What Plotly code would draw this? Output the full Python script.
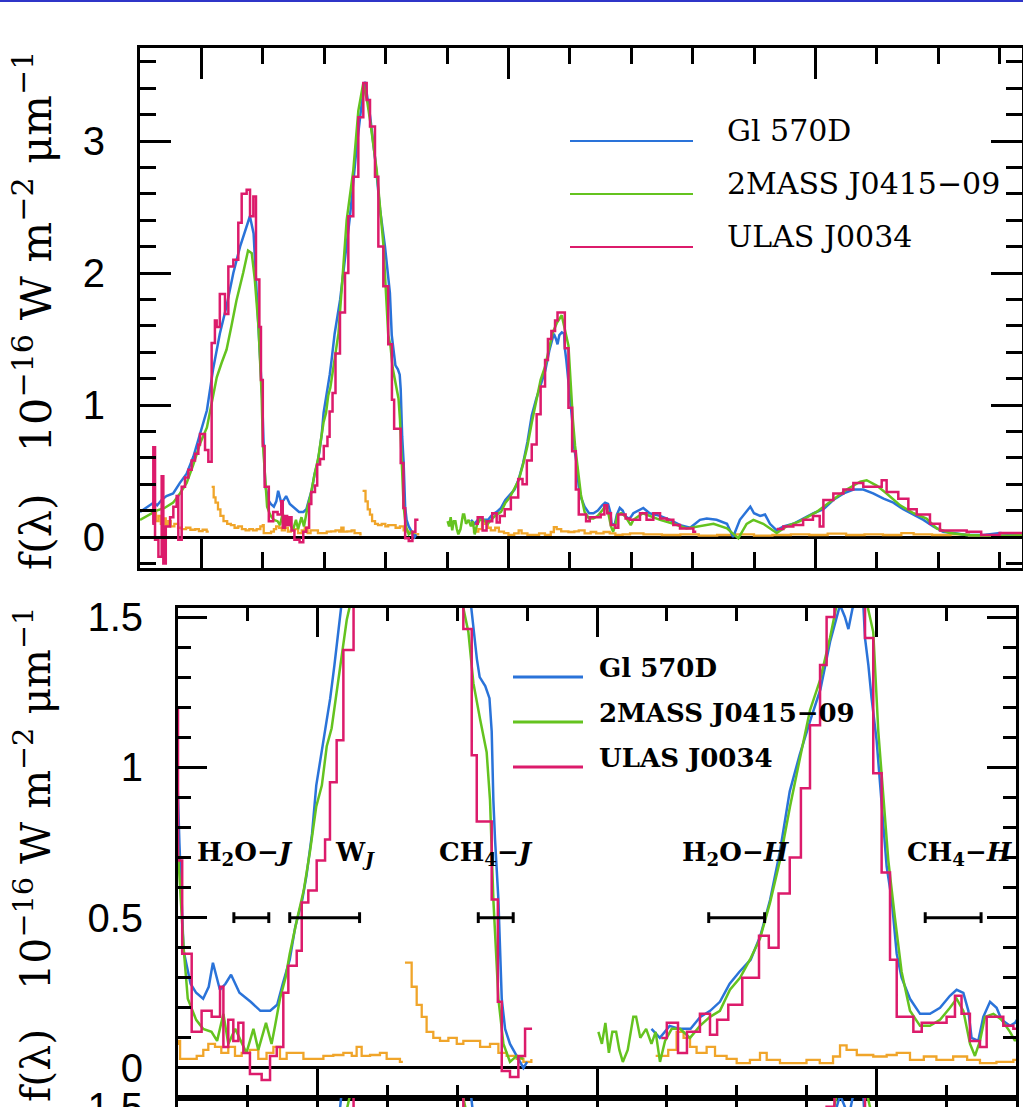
import plotly.graph_objects as go

W, H = 1023, 1107

# ---------------- data (wavelength in micron, flux in 1e-16 W m^-2 um^-1) ----------------
gl570d_wl = [0.900, 0.910, 0.922, 0.928, 0.935, 0.943, 0.954, 0.965, 0.976, 0.987, 0.998, 1.009, 1.019, 1.030,
             1.041, 1.052, 1.063, 1.074, 1.079, 1.085, 1.090, 1.095, 1.099, 1.101, 1.104, 1.109, 1.113, 1.118,
             1.122, 1.125, 1.130, 1.134, 1.138, 1.144, 1.152, 1.159, 1.166, 1.171, 1.175, 1.180, 1.184, 1.189,
             1.192, 1.196, 1.199, 1.204, 1.209, 1.212, 1.215, 1.217, 1.226, 1.234, 1.242, 1.253, 1.261, 1.2665,
             1.275, 1.283, 1.291, 1.299, 1.307, 1.310, 1.314, 1.316, 1.320, 1.323, 1.3246, 1.3258, 1.327, 1.3294,
             1.3318, 1.3342, 1.3377, 1.3425, 1.3473, 1.350, None,
             1.439, 1.445, 1.452, 1.459, 1.467, 1.474, 1.481, 1.488, 1.495, 1.502, 1.510, 1.517, 1.524, 1.531,
             1.538, 1.545, 1.553, 1.560, 1.567, 1.574, 1.5775, 1.580, 1.583, 1.587, 1.5907, 1.5919, 1.5943,
             1.5966, 1.6002, 1.6038, 1.6074, 1.611, 1.6146, 1.6181, 1.6241, 1.6313, 1.6384, 1.6456, 1.6527,
             1.6575, 1.6623, 1.6659, 1.6682, 1.673, 1.6766, 1.6814, 1.6861, 1.6897, 1.6957, 1.6993, 1.7035,
             1.7197, 1.730, 1.747, 1.763, 1.780, 1.796, 1.812, 1.823, 1.839, 1.856, 1.866, 1.877, 1.894, 1.900,
             1.910, 1.918, 1.926, 1.937, 1.948, 1.964, 1.980, 1.997, 2.013, 2.029, 2.046, 2.062, 2.078, 2.094,
             2.111, 2.127, 2.143, 2.160, 2.176, 2.192, 2.208, 2.225, 2.246, 2.274, 2.301, 2.337]
gl570d_f = [0.19, 0.22, 0.26, 0.24, 0.28, 0.31, 0.33, 0.41, 0.48, 0.61, 0.78, 0.96, 1.27, 1.54,
            1.75, 2.00, 2.20, 2.35, 2.43, 2.30, 1.84, 1.34, 1.05, 0.75, 0.39, 0.28, 0.25, 0.23,
            0.27, 0.35, 0.26, 0.28, 0.31, 0.25, 0.22, 0.19, 0.19, 0.21, 0.28, 0.36, 0.47, 0.56,
            0.64, 0.78, 0.94, 1.08, 1.23, 1.34, 1.45, 1.54, 1.80, 2.10, 2.43, 2.96, 3.28, 3.45,
            3.18, 2.86, 2.48, 2.20, 1.85, 1.53, 1.36, 1.30, 1.27, 1.23, 1.12, 0.89, 0.76, 0.56,
            0.23, 0.13, 0.08, 0.04, 0.00, 0.02, None,
            0.13, 0.10, 0.14, 0.13, 0.13, 0.17, 0.19, 0.22, 0.28, 0.32, 0.36, 0.44, 0.56, 0.72,
            0.92, 1.04, 1.16, 1.26, 1.42, 1.54, 1.50, 1.46, 1.53, 1.55, 1.54, 1.43, 1.34,
            1.23, 1.09, 0.89, 0.67, 0.56, 0.38, 0.30, 0.23, 0.18, 0.18, 0.20, 0.24,
            0.26, 0.25, 0.19, 0.10, 0.09, 0.17, 0.22, 0.20, 0.16, 0.14, 0.15, 0.18,
            0.22, 0.18, 0.16, 0.13, 0.09, 0.07, 0.13, 0.14, 0.13, 0.10, 0.00, 0.13, 0.23, 0.18,
            0.16, 0.17, 0.10, 0.05, 0.08, 0.10, 0.14, 0.18, 0.21, 0.28, 0.33, 0.36, 0.36, 0.33,
            0.29, 0.26, 0.21, 0.17, 0.13, 0.08, 0.04, 0.03, 0.015, 0.015, 0.03, 0.015]

j0415_wl = [0.900, 0.915, 0.927, 0.940, 0.954, 0.965, 0.976, 0.987, 0.998, 1.009, 1.017, 1.025, 1.033, 1.041,
            1.049, 1.057, 1.068, 1.076, 1.082, 1.087, 1.093, 1.098, 1.100, 1.104, 1.107, 1.111, 1.113, 1.118,
            1.124, 1.128, 1.1325, 1.136, 1.141, 1.146, 1.149, 1.154, 1.1575, 1.163, 1.167, 1.1695, 1.173,
            1.177, 1.180, 1.185, 1.190, 1.1945, 1.199, 1.203, 1.2065, 1.210, 1.2136, 1.2172, 1.2208, 1.2232,
            1.2366, 1.2474, 1.2556, 1.2637, 1.2700, 1.2746, 1.2855, 1.2963, 1.3043, 1.3079, 1.3115, 1.3163,
            1.3210, 1.3234, 1.3258, 1.3294, 1.3330, 1.3377, 1.3425, 1.3473, None,
            1.401, 1.4035, 1.406, 1.4085, 1.411, 1.4137, 1.416, 1.4185, 1.422, 1.426, 1.428, 1.431, 1.4352,
            1.439, 1.442, 1.4451, 1.4487, 1.4535, 1.4594, 1.4666, 1.4737, 1.4809, 1.488, 1.4952, 1.5024,
            1.5095, 1.5167, 1.5239, 1.531, 1.5382, 1.5453, 1.5525, 1.5597, 1.5668, 1.5716, 1.5787, 1.5868,
            1.5978, 1.6014, 1.605, 1.6086, 1.6133, 1.6181, 1.6241, 1.6313, 1.6384, 1.6456, 1.6527, 1.6575,
            1.6623, 1.6671, 1.6706, 1.6742, 1.6778, 1.6838, 1.6897, 1.6957, 1.6993, 1.7035, 1.719, 1.747,
            1.769, 1.790, 1.812, 1.834, 1.856, 1.8745, 1.888, 1.899, 1.915, 1.937, 1.953, 1.975, 2.002, 2.029,
            2.051, 2.073, 2.0835, 2.0998, 2.116, 2.138, 2.160, 2.181, 2.1975, 2.219, 2.246, 2.300, 2.337]
j0415_f = [0.13, 0.17, 0.20, 0.22, 0.26, 0.33, 0.41, 0.55, 0.71, 0.83, 1.02, 1.21, 1.32, 1.42,
           1.60, 1.79, 2.00, 2.17, 2.15, 1.95, 1.59, 1.09, 0.72, 0.40, 0.23, 0.18, 0.16, 0.13,
           0.12, 0.09, 0.18, 0.08, 0.13, 0.08, 0.05, 0.13, 0.06, 0.15, 0.08, 0.14, 0.23,
           0.30, 0.38, 0.49, 0.59, 0.72, 0.87, 0.94, 1.07, 1.13, 1.25, 1.37, 1.49, 1.54,
           2.40, 2.78, 3.23, 3.44, 3.30, 3.16, 2.78, 2.22, 1.53, 1.45, 1.28, 1.16,
           1.05, 0.89, 0.56, 0.23, 0.08, 0.02, 0.04, 0.03, None,
           0.12, 0.08, 0.15, 0.05, 0.12, 0.12, 0.06, 0.02, 0.06, 0.17, 0.17, 0.10, 0.13,
           0.08, 0.12, 0.02, 0.09, 0.13, 0.13, 0.10, 0.14, 0.17, 0.19, 0.26, 0.30,
           0.36, 0.43, 0.55, 0.69, 0.87, 1.03, 1.19, 1.29, 1.43, 1.54, 1.62, 1.68,
           1.45, 1.12, 0.89, 0.69, 0.50, 0.32, 0.19, 0.14, 0.14, 0.16, 0.20, 0.23,
           0.19, 0.08, 0.04, 0.09, 0.17, 0.18, 0.16, 0.12, 0.09, 0.13, 0.18, 0.13,
           0.10, 0.065, 0.08, 0.10, 0.065, -0.01, 0.10, 0.13, 0.10, 0.03, 0.08, 0.12, 0.19, 0.28,
           0.36, 0.42, 0.43, 0.39, 0.33, 0.24, 0.18, 0.14, 0.065, 0.03, 0.015, 0.008, 0.015]

j0034_wl = [0.9200, 0.9217, 0.9245, 0.9300, 0.9353, 0.9380, 0.9420, 0.9490, 0.9543, 0.9597, 0.9624, 0.9679,
            0.9733, 0.9787, 0.9841, 0.9896, 0.9950, 0.9977, 1.0059, 1.0113, 1.0167, 1.0220, 1.0249, 1.0300,
            1.0384, 1.0439, 1.0520, 1.0601, 1.0656, 1.0737, 1.0792, 1.0846, 1.0889, 1.0944, 1.0970, 1.1000,
            1.1030, 1.1098, 1.1169, 1.1241, 1.1301, 1.1325, 1.1360, 1.1396, 1.1432, 1.1468, 1.1515, 1.1599,
            1.1659, 1.1707, 1.1754, 1.1790, 1.1850, 1.1886, 1.1933, 1.1993, 1.2053, 1.2088, 1.2136, 1.2184,
            1.2257, 1.2339, 1.2393, 1.2474, 1.2556, 1.2637, 1.2692, 1.2746, 1.2827, 1.2882, 1.2963, 1.3043,
            1.3103, 1.3139, 1.3246, 1.3290, 1.3318, 1.3377, 1.3437, 1.3485, 1.3535, None,
            1.4460, 1.4500, 1.4580, 1.4644, 1.4737, 1.4809, 1.4860, 1.4940, 1.5040, 1.5160, 1.5230, 1.5300,
            1.5380, 1.5460, 1.5525, 1.5597, 1.5644, 1.5700, 1.5760, 1.5800, 1.5919, 1.5978, 1.6038, 1.6098,
            1.6146, 1.6265, 1.6325, 1.6503, 1.6563, 1.6610, 1.6670, 1.6742, 1.6790, 1.6909, 1.6981, 1.7035,
            1.7143, 1.7250, 1.7360, 1.7470, 1.7580, 1.7686, 1.7795, 1.7903, 1.8012, 1.8060, None,
            1.9370, 1.9478, 1.9640, 1.9800, 1.9960, 2.0070, 2.0130, 2.0292, 2.0455, 2.0618, 2.0780, 2.0943,
            2.1080, 2.1160, 2.1350, 2.1514, 2.1650, 2.1866, 2.2029, 2.2250, 2.2464, 2.2700, 2.3000, 2.3370]
j0034_f = [0.10, 0.68, -0.02, -0.15, 0.46, -0.20, 0.08, 0.15, 0.23, 0.31, -0.02, 0.38,
           0.45, 0.51, 0.58, 0.63, 0.70, 0.78, 0.66, 0.57, 1.47, 1.64, 1.59, 1.84,
           1.69, 2.05, 2.10, 2.38, 2.60, 2.63, 2.43, 2.58, 1.95, 1.59, 1.19, 0.69,
           0.38, 0.12, 0.19, 0.17, 0.27, 0.07, 0.16, 0.09, 0.15, 0.05, -0.02, -0.04,
           0.04, 0.07, 0.25, 0.34, 0.39, 0.55, 0.59, 0.69, 0.76, 0.95, 1.09, 1.39,
           1.70, 2.00, 2.43, 2.73, 3.18, 3.44, 3.31, 3.11, 2.73, 2.20, 1.90, 1.46,
           1.04, 0.82, 0.56, 0.22, -0.01, -0.03, 0.04, 0.13, 0.13, None,
           0.10, 0.15, 0.05, 0.12, 0.18, 0.11, 0.16, 0.21, 0.30, 0.44, 0.40, 0.58,
           0.70, 0.93, 1.14, 1.34, 1.50, 1.56, 1.64, 1.70, 1.43, 0.98, 0.65, 0.36,
           0.17, 0.12, 0.15, 0.17, 0.24, 0.18, 0.09, 0.07, 0.17, 0.14, 0.13, 0.13,
           0.18, 0.13, 0.18, 0.14, 0.13, 0.09, 0.065, 0.065, 0.04, 0.04, None,
           0.06, 0.08, 0.09, 0.13, 0.16, 0.08, 0.28, 0.33, 0.36, 0.41, 0.38, 0.38,
           0.43, 0.34, 0.29, 0.21, 0.17, 0.10, 0.05, 0.05, 0.04, 0.015, 0.03, 0.03]

noise_wl = [0.9228, 0.9260, 0.9300, 0.9340, 0.9380, 0.9420, 0.9460, 0.9500, 0.9560, 0.9620, 0.9680, 0.9750,
            0.9820, 0.9900, 0.9960, 1.0020, 1.0086, 1.0120, None,
            1.0167, 1.0200, 1.0230, 1.0270, 1.0310, 1.0360, 1.0420, 1.0480, 1.0540, 1.0600, 1.0660, 1.0720,
            1.0780, 1.0840, 1.0900, 1.0960, 1.1000, 1.1015, 1.1134, 1.1181, 1.1217, 1.1265, 1.1310, 1.1360,
            1.1408, 1.1456, 1.1515, 1.1575, 1.1634, 1.1683, 1.1730, 1.1778, 1.1838, 1.1898, 1.1969, 1.2041,
            1.2112, 1.2184, 1.2244, 1.2279, 1.2315, 1.2375, 1.2446, 1.2494, 1.2589, 1.2610, None,
            1.2625, 1.2673, 1.2709, 1.2745, 1.2780, 1.2828, 1.2876, 1.2936, 1.2996, 1.3043, 1.3103, 1.3163,
            1.3234, 1.3294, 1.3353, 1.3425, 1.3473, 1.3530, None,
            1.4420, 1.4510, 1.4570, 1.4620, 1.4666, 1.4713, 1.4785, 1.4845, 1.4928, 1.5000, 1.5095, 1.5167,
            1.5215, 1.5310, 1.5405, 1.5500, 1.5595, 1.5690, 1.5740, 1.5787, 1.5860, 1.5978, 1.6074, 1.6146,
            1.6241, 1.6340, 1.6430, 1.6550, 1.6650, 1.6742, 1.6860, 1.6981, 1.72, 1.75, 1.78, 1.81, 1.84,
            1.87, 1.90, 1.93, 1.96, 1.99, 2.02, 2.05, 2.08, 2.11, 2.14, 2.16, 2.19, 2.22, 2.25, 2.28, 2.31, 2.337]
noise_f = [0.20, 0.12, 0.16, 0.10, 0.14, 0.09, 0.12, 0.08, 0.10, 0.07, 0.06, 0.07,
           0.055, 0.06, 0.045, 0.055, 0.04, 0.04, None,
           0.38, 0.30, 0.26, 0.21, 0.16, 0.12, 0.10, 0.09, 0.07, 0.08, 0.06, 0.05,
           0.06, 0.05, 0.06, 0.08, 0.09, 0.03, 0.04, 0.06, 0.08, 0.07, 0.05, 0.07,
           0.04, 0.05, 0.06, 0.03, 0.05, 0.07, 0.03, 0.05, 0.05, 0.03, 0.03, 0.04,
           0.043, 0.05, 0.04, 0.07, 0.04, 0.043, 0.05, 0.03, 0.02, 0.02, None,
           0.35, 0.27, 0.21, 0.17, 0.12, 0.10, 0.09, 0.10, 0.08, 0.09, 0.09, 0.07,
           0.08, 0.05, 0.04, 0.03, 0.02, 0.03, None,
           0.04, 0.06, 0.12, 0.10, 0.07, 0.05, 0.07, 0.04, 0.03, 0.016, 0.027, 0.05,
           0.027, 0.016, 0.016, 0.027, 0.016, 0.038, 0.075, 0.06, 0.043, 0.038, 0.043, 0.05,
           0.027, 0.038, 0.027, 0.038, 0.027, 0.016, 0.02, 0.027, 0.02, 0.015, 0.02, 0.01, 0.015,
           0.02, 0.01, 0.015, 0.02, 0.015, 0.025, 0.015, 0.02, 0.015, 0.03, 0.02, 0.015, 0.02, 0.01, 0.015, 0.02, 0.02]

series_names = ["Gl 570D", "2MASS J0415\u221209", "ULAS J0034"]
series_colors = ["#2a73d9", "#64c31f", "#dc1b6b"]
noise_color = "#f0a52a"

# spectral index windows (micron) drawn at flux level 0.5 in the zoomed panel
index_names = ["H<sub>2</sub>O\u2212<i>J</i>", "W<sub><i>J</i></sub>", "CH<sub>4</sub>\u2212<i>J</i>",
               "H<sub>2</sub>O\u2212<i>H</i>", "CH<sub>4</sub>\u2212<i>H</i>"]
index_lo = [1.14, 1.18, 1.315, 1.48, 1.635]
index_hi = [1.165, 1.23, 1.34, 1.52, 1.675]
index_level = 0.5


def xp(px):
    return px / W


def yp(py):
    return 1 - py / H


fig = go.Figure()

panels = [("x", "y"), ("x2", "y2"), ("x3", "y3")]
for xa, ya in panels:
    fig.add_trace(go.Scatter(x=noise_wl, y=noise_f, mode="lines", line=dict(color=noise_color, width=2.3, shape="hv"),
                             xaxis=xa, yaxis=ya, showlegend=False, hoverinfo="skip", connectgaps=False))
    for wl, fl, col, shp in [(gl570d_wl, gl570d_f, series_colors[0], "linear"),
                             (j0415_wl, j0415_f, series_colors[1], "linear"),
                             (j0034_wl, j0034_f, series_colors[2], "hv")]:
        fig.add_trace(go.Scatter(x=wl, y=fl, mode="lines", line=dict(color=col, width=2.5, shape=shp),
                                 xaxis=xa, yaxis=ya, showlegend=False, hoverinfo="skip", connectgaps=False))

common = dict(showline=True, linecolor="black", linewidth=3, mirror="ticks", ticks="inside",
              tickcolor="black", tickwidth=3, showgrid=False, zeroline=False, automargin=False)
tickfont = dict(family="Liberation Sans, Arial, sans-serif", size=40, color="black")

p1_x = [xp(140), xp(1022)]
p1_y = [yp(568), yp(48)]
p2_x = [xp(178), xp(1016)]
p2_y = [yp(1098), yp(608)]
p3_y = [0, yp(1098)]

fig.update_layout(
    template="none",
    width=W, height=H, margin=dict(l=0, r=0, t=0, b=0, pad=0, autoexpand=False),
    paper_bgcolor="white", plot_bgcolor="white", showlegend=False,
    xaxis=dict(**common, domain=p1_x, range=[0.9, 0.9 + 882 / 614], tick0=0, dtick=0.5, ticklen=31,
               minor=dict(dtick=0.1, ticklen=16, tickwidth=3, tickcolor="black", ticks="inside"),
               showticklabels=False, anchor="y"),
    yaxis=dict(**{**common, "zeroline": True}, zerolinecolor="black", zerolinewidth=3,
               domain=p1_y, range=[-31 / 132, 489 / 132], tick0=0, dtick=1, ticklen=31,
               minor=dict(dtick=0.2, ticklen=16, tickwidth=3, tickcolor="black", ticks="inside"),
               tickfont=tickfont, ticklabelstandoff=24, anchor="x"),
    xaxis2=dict(**common, domain=p2_x, range=[1.1, 1.7], tick0=0, dtick=0.2, ticklen=29,
                minor=dict(dtick=0.05, ticklen=13, tickwidth=3, tickcolor="black", ticks="inside"),
                showticklabels=False, anchor="y2"),
    yaxis2=dict(**{**common, "zeroline": True}, zerolinecolor="black", zerolinewidth=3,
                domain=p2_y, range=[-0.1, 1.53], tick0=0, dtick=0.5, ticklen=29,
                minor=dict(dtick=0.1, ticklen=13, tickwidth=3, tickcolor="black", ticks="inside"),
                tickfont=tickfont, ticklabelstandoff=24, anchor="x2"),
    xaxis3=dict(**common, domain=p2_x, range=[1.1, 1.7], tick0=0, dtick=0.2, ticklen=29,
                minor=dict(dtick=0.05, ticklen=13, tickwidth=3, tickcolor="black", ticks="inside"),
                showticklabels=False, anchor="y3"),
    yaxis3=dict(**common, domain=p3_y, range=[1.4995, 1.5295], tickvals=[1.5], ticktext=["1.5"], ticklen=29,
                tickfont=tickfont, ticklabelstandoff=24, ticklabeloverflow="allow", anchor="x3"),
)

shapes = []
annotations = []

# thin blue rule at the very top of the slide
shapes.append(dict(type="line", xref="paper", yref="paper", x0=0, x1=1, y0=yp(1), y1=yp(1),
                   line=dict(color="#2f35c8", width=2)))

# legends
ytitle = "f(\u03bb)\u00a0\u00a0 10<sup>\u221216</sup> W m<sup>\u22122</sup> \u03bcm<sup>\u22121</sup>"
legend_specs = [
    # (line x0, line x1, line ys, text x, font size, line width, weight)
    (570, 693, [141, 194, 247], 725, 30, 2.2, "normal"),
    (513, 583, [677, 722, 767], 597, 26, 3.0, "bold"),
]
for lx0, lx1, lys, tx, fs, lw, wt in legend_specs:
    for name, col, ly in zip(series_names, series_colors, lys):
        shapes.append(dict(type="line", xref="paper", yref="paper", x0=xp(lx0), x1=xp(lx1),
                           y0=yp(ly), y1=yp(ly), line=dict(color=col, width=lw)))
        annotations.append(dict(text=name, xref="paper", yref="paper", x=xp(tx), y=yp(ly - 0.36 * fs),
                                xanchor="left", yanchor="middle", showarrow=False,
                                font=dict(family="DejaVu Serif", size=fs, color="black", weight=wt)))

# y-axis titles
for cy, fs in [(311, 43), (855, 41)]:
    annotations.append(dict(text=ytitle, xref="paper", yref="paper", x=xp(33), y=yp(cy), textangle=-90,
                            xanchor="center", yanchor="middle", showarrow=False,
                            font=dict(family="DejaVu Serif", size=fs, color="black")))

# spectral index windows
cap = 0.018
for lo, hi in zip(index_lo, index_hi):
    shapes.append(dict(type="line", xref="x2", yref="y2", x0=lo, x1=hi, y0=index_level, y1=index_level,
                       line=dict(color="black", width=3)))
    for xv in (lo, hi):
        shapes.append(dict(type="line", xref="x2", yref="y2", x0=xv, x1=xv, y0=index_level - cap,
                           y1=index_level + cap, line=dict(color="black", width=3)))

index_label_px = [195, 333, 437, 680, 905]
for name, px in zip(index_names, index_label_px):
    annotations.append(dict(text=name, xref="paper", yref="paper", x=xp(px), y=yp(853),
                            xanchor="left", yanchor="middle", showarrow=False,
                            font=dict(family="DejaVu Serif", size=26, color="black", weight="bold")))

fig.update_layout(shapes=shapes, annotations=annotations)
fig.write_html("out.html")
